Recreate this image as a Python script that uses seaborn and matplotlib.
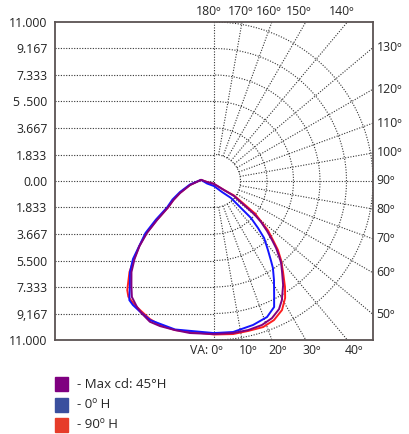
import numpy as np
import pandas as pd
import matplotlib
matplotlib.use("Agg")
import matplotlib.pyplot as plt
from matplotlib.patches import Rectangle
import seaborn as sns

# vertical angle from nadir in degrees (negative = opposite half plane) and intensity,
# listed in drawing order around each closed curve
max_angles = [-95, -80.5, -70.6, -64.9, -60.1, -55.6, -53.7, -52.2, -48.9, -45.5, -42.2, -38.2,
              -35.3, -31.4, -28.7, -24.5, -20.4, -14.7, -9, 0,
              7.1, 12.9, 18.4, 22.9, 26.9, 29.7, 33.6, 36.8, 39.3, 40.9, 42.8, 44.5, 46.7,
              48.9, 50.5, 51.3, 53.1, 48, 0, -82]
max_values = [0.9, 1.68, 2.49, 3.1, 3.67, 4.78, 5.32, 5.87, 6.84, 7.71, 8.5, 9.24,
              9.83, 10.22, 10.43, 10.7, 10.71, 10.66, 10.65, 10.59,
              10.6, 10.58, 10.5, 10.3, 9.94, 9.48, 8.64, 7.86, 7.33, 6.87, 6.32, 5.73, 5.04,
              4.32, 3.59, 2.66, 1.73, 0.93, 0.2, 0.49]

h0_angles = [-95, -81.7, -72.1, -66, -60.6, -56.4, -52.8, -46.1, -42.7, -38.7, -35.4, -33.2,
             -29.5, -24.7, -14.7, 0,
             7.2, 15.2, 21.3, 25.5, 27.8, 31.2, 34.1, 35.5, 38.0, 41.3, 43.1, 45, 45, 45,
             36, 0, -70]
h0_values = [0.9, 1.68, 2.47, 3.14, 3.73, 4.82, 5.95, 7.78, 8.57, 9.31, 10.11, 10.25,
             10.39, 10.59, 10.62, 10.52,
             10.53, 10.32, 10.1, 9.66, 8.92, 8.01, 7.27, 6.8, 6.06, 5.25, 4.46, 3.62, 2.64, 1.66,
             0.94, 0.35, 0.51]

h90_angles = [-95, -80.5, -70.6, -64.9, -60.1, -55.6, -52.4, -48.9, -45.7, -42.9, -38.5, -36.5,
              -33.4, -29.8, -24.9, -20.6, -14.7, 0,
              7.1, 12.8, 18.6, 23.3, 27.8, 31.3, 33.8, 37.2, 40.3, 42.8, 44.5, 47.5, 51.6,
              54.1, 48, 0, -82]
h90_values = [0.9, 1.68, 2.49, 3.1, 3.67, 4.8, 5.9, 6.86, 7.73, 8.59, 9.64, 9.96,
              10.14, 10.29, 10.53, 10.64, 10.66, 10.62,
              10.67, 10.64, 10.66, 10.48, 10.09, 9.47, 8.83, 7.9, 7.17, 6.51, 5.92, 5.07, 3.62,
              1.71, 0.93, 0.2, 0.49]

series_labels = ["- Max cd: 45°H", "- 0º H", "- 90º H"]
line_colors = ["#800080", "#1414ff", "#ff1e1e"]
legend_colors = ["#7f0080", "#3a4f9e", "#e63c2a"]

ytick_values = [11, 9.167, 7.333, 5.5, 3.667, 1.833, 0, -1.833, -3.667, -5.5, -7.333, -9.167, -11]
ytick_labels = ["11.000", "9.167", "7.333", "5 .500", "3.667", "1.833", "0.00",
                "1.833", "3.667", "5.500", "7.333", "9,167", "11.000"]
grid_radii = [1.833, 3.667, 5.5, 7.333, 9.167, 11]
angle_ticks = list(range(0, 190, 10))
top_shift = {140: -4, 150: -5, 160: -2.5, 170: -1, 180: -4}

sns.set_style("white")
plt.rcParams["font.family"] = ["Open Sans", "DejaVu Sans"]
plt.rcParams["font.size"] = 8.8

W, H = 409, 434
fig = plt.figure(figsize=(W / 100, H / 100), dpi=100)
ax = fig.add_axes([55 / W, 94 / H, 318 / W, 318 / H])
ax.set_xlim(-11, 11)
ax.set_ylim(-11, 11)
ax.set_xticks([])
ax.set_yticks(ytick_values)
ax.set_yticklabels(ytick_labels)
ax.tick_params(axis="y", length=0, pad=5.5, labelsize=8.8, colors="#222222")
for s in ax.spines.values():
    s.set_color("#5b5353")
    s.set_linewidth(1.3)

dot = dict(color="#333333", lw=0.8, ls=(0, (1, 1.4)), zorder=1)

# cartesian grid on the left half
for y in ytick_values[1:-1]:
    ax.plot([-11, 0], [y, y], **dot)
ax.plot([0, 0], [-11, 11], **dot)

# polar grid on the right half
t = np.radians(np.linspace(0, 180, 200))
for r in grid_radii:
    ax.plot(r * np.sin(t), -r * np.cos(t), **dot)
for a in angle_ticks:
    th = np.radians(a)
    sx, sy = np.sin(th), -np.cos(th)
    lim = min(11 / abs(sx) if abs(sx) > 1e-9 else 1e9, 11 / abs(sy) if abs(sy) > 1e-9 else 1e9)
    if a not in (0, 180):
        ax.plot([grid_radii[0] * sx, lim * sx], [grid_radii[0] * sy, lim * sy], **dot)
    ex, ey = lim * sx, lim * sy
    if a <= 40:
        txt = "VA: 0º" if a == 0 else f"{a}º"
        ax.annotate(txt, (ex, -11), xytext=(6 if a == 0 else 4.5, -7.5), textcoords="offset points",
                    ha="right" if a == 0 else "center", va="center", annotation_clip=False)
    elif a <= 130:
        ax.annotate(f"{a}º", (11, ey), xytext=(2.5, 0), textcoords="offset points",
                    ha="left", va="center", annotation_clip=False)
    else:
        ax.annotate(f"{a}º", (ex, 11), xytext=(top_shift[a], 7.5), textcoords="offset points",
                    ha="center", va="center", annotation_clip=False)

# intensity curves
curves = [(h90_angles, h90_values, line_colors[2]),
          (h0_angles, h0_values, line_colors[1]),
          (max_angles, max_values, line_colors[0])]
for angles, values, color in curves:
    th = np.radians(angles + [angles[0]])
    r = np.array(values + [values[0]])
    df = pd.DataFrame({"x": r * np.sin(th), "y": -r * np.cos(th)})
    sns.lineplot(data=df, x="x", y="y", sort=False, estimator=None, color=color,
                 lw=1.4, ax=ax, zorder=3)
ax.set_xlabel("")
ax.set_ylabel("")

# legend below the chart
for i, (lab, col) in enumerate(zip(series_labels, legend_colors)):
    yc = 384 + i * 20.5
    fig.add_artist(Rectangle((55 / W, 1 - (yc + 7) / H), 13 / W, 14 / H,
                             transform=fig.transFigure, color=col))
    fig.text(77 / W, 1 - yc / H, lab, ha="left", va="center", fontsize=9.5)

fig.savefig("out.png", dpi=100)
